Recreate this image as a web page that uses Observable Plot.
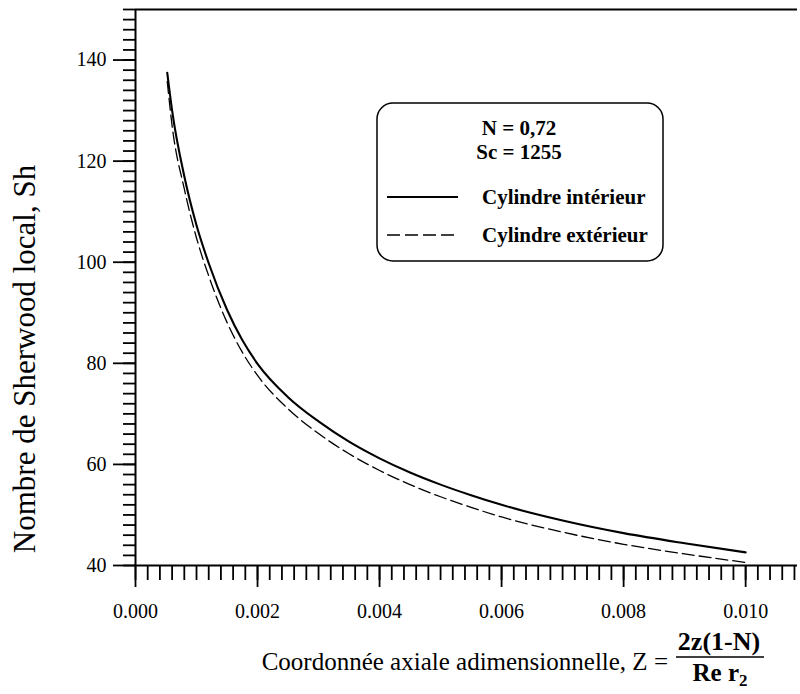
<!DOCTYPE html>
<html>
<head>
<meta charset="utf-8">
<script src="https://cdn.jsdelivr.net/npm/d3@7"></script>
<script src="https://cdn.jsdelivr.net/npm/@observablehq/plot@0.6"></script>
<style>
  body { margin: 0; background: #fff; }
  #chart svg { display: block; }
</style>
</head>
<body>
<div id="chart"></div>
<script>
// Axial coordinate Z = 2z(1-N)/(Re r2)
const zValues = [0.00052, 0.0006, 0.0008, 0.001, 0.0012, 0.0015, 0.00175, 0.002, 0.0025, 0.003,
                 0.0035, 0.004, 0.0045, 0.005, 0.0055, 0.006, 0.007, 0.008, 0.009, 0.010];
// Local Sherwood number, inner cylinder (solid)
const shInner = [137.5, 130.0, 117.0, 107.3, 99.8, 90.6, 84.6, 79.9, 73.3, 68.5,
                 64.5, 61.2, 58.4, 56.0, 53.9, 52.0, 48.9, 46.4, 44.4, 42.6];
// Local Sherwood number, outer cylinder (dashed)
const shOuter = [135.8, 127.0, 114.5, 104.8, 97.3, 88.1, 82.2, 77.6, 71.0, 66.1,
                 62.1, 58.8, 56.0, 53.6, 51.5, 49.6, 46.6, 44.2, 42.3, 40.6];

const xMajorTicks = [0, 0.002, 0.004, 0.006, 0.008, 0.010];
const xTickLabels = ["0.000", "0.002", "0.004", "0.006", "0.008", "0.010"];
const yMajorTicks = [40, 60, 80, 100, 120, 140];
const seriesNames = ["Cylindre intérieur", "Cylindre extérieur"];
const paramLines = ["N = 0,72", "Sc = 1255"];

const xDomain = [0, 0.01085];
const yDomain = [40, 150];
const xMinorTicks = d3.range(0, 0.01081, 0.0002);
const yMinorTicks = d3.range(40, 150.5, 2);

const inner = zValues.map((z, i) => ({z, sh: shInner[i]}));
const outer = zValues.map((z, i) => ({z, sh: shOuter[i]}));

const font = "'Liberation Serif', 'DejaVu Serif', 'Times New Roman', Times, serif";

const chart = Plot.plot({
  width: 800,
  height: 694,
  marginLeft: 135,
  marginRight: 3,
  marginTop: 9,
  marginBottom: 129,
  style: {fontFamily: font, fontSize: "20px", color: "black", background: "white"},
  x: {domain: xDomain},
  y: {domain: yDomain},
  marks: [
    Plot.axisX({ticks: xMinorTicks, tickSize: 15, strokeWidth: 1.8, tickFormat: () => "", label: null}),
    Plot.axisX({ticks: xMajorTicks, tickSize: 22, tickPadding: 16, strokeWidth: 1.8,
                tickFormat: d => xTickLabels[xMajorTicks.findIndex(t => Math.abs(t - d) < 1e-9)], label: null}),
    Plot.axisY({ticks: yMinorTicks, tickSize: 12, strokeWidth: 1.8, tickFormat: () => "", label: null}),
    Plot.axisY({ticks: yMajorTicks, tickSize: 22, tickPadding: 7, strokeWidth: 1.8, label: null}),
    Plot.ruleY([yDomain[0]], {stroke: "black", strokeWidth: 2}),
    Plot.ruleY([yDomain[1]], {stroke: "black", strokeWidth: 2}),
    Plot.ruleX([xDomain[0]], {stroke: "black", strokeWidth: 2}),
    Plot.line(inner, {x: "z", y: "sh", stroke: "black", strokeWidth: 2.1, curve: "monotone-x"}),
    Plot.line(outer, {x: "z", y: "sh", stroke: "black", strokeWidth: 1.3,
                      strokeDasharray: "12,5", curve: "monotone-x"})
  ]
});

const svg = d3.select(chart);

// Y axis title
svg.append("text")
  .attr("transform", "translate(35,359) rotate(-90)")
  .attr("text-anchor", "middle")
  .attr("font-family", font)
  .attr("font-size", 31)
  .attr("fill", "black")
  .text("Nombre de Sherwood local, Sh");

// X axis title with the fraction 2z(1-N) / (Re r2)
svg.append("text")
  .attr("x", 668).attr("y", 670)
  .attr("text-anchor", "end")
  .attr("font-family", font)
  .attr("font-size", 25)
  .attr("fill", "black")
  .text("Coordonnée axiale adimensionnelle, Z =");
svg.append("text")
  .attr("x", 719).attr("y", 650)
  .attr("text-anchor", "middle")
  .attr("font-family", font)
  .attr("font-size", 26)
  .attr("font-weight", "bold")
  .attr("fill", "black")
  .text("2z(1-N)");
svg.append("line")
  .attr("x1", 676).attr("x2", 764).attr("y1", 657).attr("y2", 657)
  .attr("stroke", "black").attr("stroke-width", 1.6);
const den = svg.append("text")
  .attr("x", 720).attr("y", 681)
  .attr("text-anchor", "middle")
  .attr("font-family", font)
  .attr("font-size", 25)
  .attr("font-weight", "bold")
  .attr("fill", "black");
den.append("tspan").text("Re r");
den.append("tspan").attr("font-size", 17).attr("dy", 5).text("2");

// Legend box
const lg = svg.append("g")
  .attr("font-family", font)
  .attr("font-weight", "bold")
  .attr("fill", "black")
  .attr("text-anchor", "start");
lg.append("rect")
  .attr("x", 377).attr("y", 103).attr("width", 286).attr("height", 158)
  .attr("rx", 16).attr("ry", 16)
  .attr("fill", "white").attr("stroke", "black").attr("stroke-width", 1.5);
paramLines.forEach((t, i) => {
  lg.append("text")
    .attr("x", 519).attr("y", 135 + i * 24)
    .attr("text-anchor", "middle")
    .attr("font-size", 21)
    .text(t);
});
const legendY = [197, 235];
const legendDash = [null, "13,5"];
const legendWidth = [2.1, 1.3];
seriesNames.forEach((name, i) => {
  lg.append("line")
    .attr("x1", 387).attr("x2", 458).attr("y1", legendY[i]).attr("y2", legendY[i])
    .attr("stroke", "black").attr("stroke-width", legendWidth[i])
    .attr("stroke-dasharray", legendDash[i]);
  lg.append("text")
    .attr("x", 482).attr("y", legendY[i] + 7)
    .attr("text-anchor", "start")
    .attr("font-size", 21)
    .text(name);
});

document.getElementById("chart").appendChild(chart);
</script>
</body>
</html>
